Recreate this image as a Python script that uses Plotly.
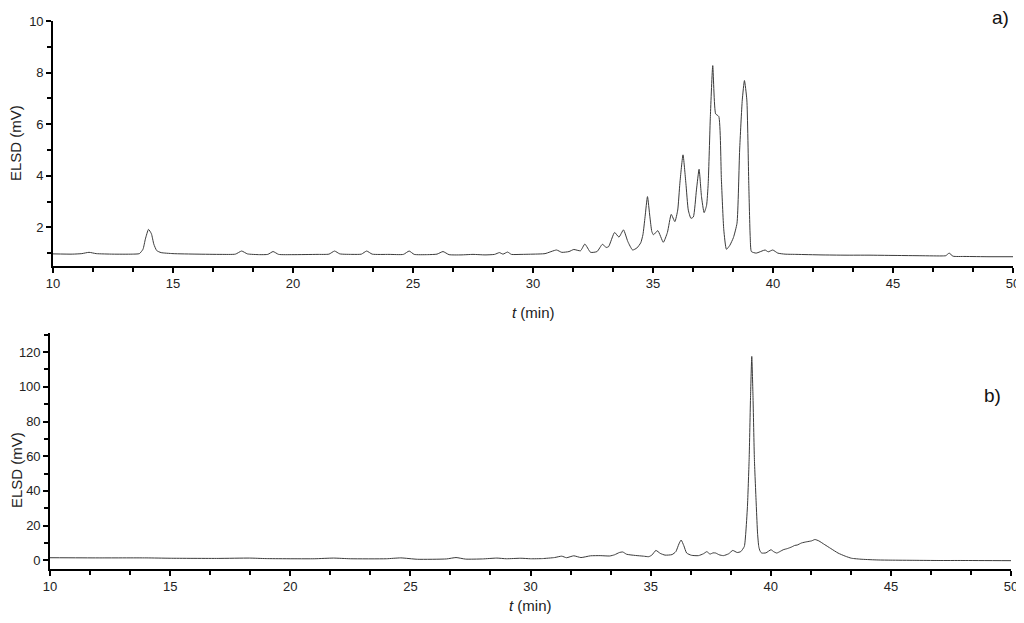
import plotly.graph_objects as go

# chromatogram a) : retention time (min) and ELSD signal (mV)
time_a = [10.0, 10.8, 11.2, 11.5, 11.8, 12.5, 13.3, 13.6, 13.75, 13.85, 13.98, 14.1, 14.2, 14.32, 14.5,
          15.0, 16.0, 17.0, 17.6, 17.86, 18.1, 18.6, 18.95, 19.17, 19.4, 20.0, 21.0, 21.5, 21.73, 21.95,
          22.5, 22.85, 23.07, 23.3, 24.0, 24.6, 24.84, 25.05, 25.6, 26.0, 26.25, 26.5, 27.0, 27.5, 28.0,
          28.4, 28.6, 28.75, 28.94, 29.1, 29.5, 30.0, 30.5, 30.98, 31.2, 31.5, 31.7, 31.98, 32.16, 32.4,
          32.67, 32.89, 33.05, 33.15, 33.4, 33.58, 33.77, 33.95, 34.15, 34.33, 34.49, 34.58, 34.67, 34.77,
          34.87, 34.95, 35.02, 35.2, 35.43, 35.6, 35.76, 35.91, 36.03, 36.12, 36.25, 36.37, 36.47, 36.58,
          36.68, 36.81, 36.92, 37.02, 37.13, 37.23, 37.3, 37.39, 37.49, 37.61, 37.74, 37.85, 37.95, 38.06,
          38.2, 38.35, 38.5, 38.61, 38.72, 38.81, 38.91, 38.99, 39.05, 39.1, 39.3, 39.67, 39.8, 39.99,
          40.2, 40.5, 41.0, 42.0, 43.0, 44.0, 45.0, 46.0, 47.0, 47.2, 47.34, 47.5, 48.0, 49.0, 50.0]
signal_a = [0.97, 0.96, 0.98, 1.03, 0.98, 0.96, 0.96, 0.98, 1.15, 1.55, 1.92, 1.75, 1.35, 1.1, 1.02,
            0.98, 0.96, 0.95, 0.96, 1.08, 0.97, 0.94, 0.95, 1.06, 0.95, 0.94, 0.95, 0.96, 1.08, 0.97,
            0.95, 0.96, 1.08, 0.96, 0.95, 0.95, 1.08, 0.95, 0.94, 0.96, 1.06, 0.94, 0.93, 0.95, 0.93,
            0.95, 1.02, 0.96, 1.04, 0.95, 0.95, 0.96, 0.98, 1.12, 1.03, 1.06, 1.14, 1.09, 1.35, 1.03,
            1.06, 1.34, 1.22, 1.25, 1.8, 1.62, 1.9, 1.45, 1.12, 1.2, 1.4, 1.71, 2.41, 3.19,
            2.41, 1.84, 1.71, 1.87, 1.42, 1.8, 2.5, 2.22, 2.67, 3.71, 4.81, 3.71, 2.67, 2.35,
            2.4, 3.45, 4.25, 3.2, 2.57, 2.84, 3.7, 6.3, 8.27, 6.4, 6.3, 3.84, 1.9, 1.15,
            1.3, 1.6, 2.16, 5.0, 6.94, 7.69, 6.94, 3.71, 1.64, 1.06, 1.0, 1.12, 1.05, 1.12,
            1.0, 0.96, 0.95, 0.93, 0.92, 0.92, 0.91, 0.9, 0.89, 0.9, 1.0, 0.88, 0.87, 0.86, 0.86]

# chromatogram b)
time_b = [10.0, 12.0, 14.0, 15.0, 17.0, 18.3, 19.0, 21.0, 21.8, 22.5, 24.0, 24.6, 25.3, 26.5, 26.9,
          27.3, 28.0, 28.6, 29.0, 29.6, 30.0, 30.5, 31.0, 31.3, 31.5, 31.8, 32.1, 32.5, 32.9, 33.3,
          33.5, 33.7, 33.84, 34.0, 34.37, 34.7, 34.92, 35.05, 35.22, 35.4, 35.6, 35.89, 36.05, 36.18,
          36.27, 36.38, 36.5, 36.7, 36.99, 37.2, 37.34, 37.47, 37.6, 37.71, 37.85, 38.03, 38.25, 38.42,
          38.6, 38.75, 38.9, 38.96, 39.03, 39.1, 39.16, 39.21, 39.26, 39.32, 39.4, 39.45, 39.5, 39.55,
          39.62, 39.8, 40.01, 40.12, 40.25, 40.4, 40.52, 40.7, 40.87, 41.0, 41.1, 41.28, 41.5, 41.7,
          41.84, 42.0, 42.25, 42.5, 42.8, 43.1, 43.36, 43.8, 44.47, 45.0, 46.0, 47.0, 48.0, 50.0]
signal_b = [1.5, 1.4, 1.4, 1.2, 1.1, 1.3, 1.0, 0.9, 1.3, 0.9, 0.9, 1.4, 0.6, 0.8, 1.6,
            0.7, 0.8, 1.3, 0.9, 1.2, 0.9, 1.0, 1.6, 2.4, 1.5, 2.6, 1.6, 2.6, 2.7, 2.5,
            3.2, 4.5, 4.8, 3.5, 2.8, 2.4, 2.1, 3.0, 5.7, 4.0, 3.0, 3.3, 5.0, 9.5,
            11.7, 8.5, 4.2, 2.9, 2.7, 3.8, 5.0, 3.6, 4.3, 4.2, 3.2, 2.7, 3.8, 5.7,
            4.5, 5.0, 8.0, 15.7, 31.0, 58.0, 95.0, 117.5, 95.0, 58.0, 31.0, 15.7, 8.0, 5.5,
            4.2, 4.3, 6.1, 5.0, 4.2, 5.2, 6.1, 6.8, 7.7, 8.6, 8.8, 10.0, 10.7, 11.2,
            12.0, 11.2, 9.0, 6.8, 4.2, 2.4, 1.2, 0.6, 0.2, 0.1, 0.0, -0.1, -0.1, -0.2]

# the page body adds an 8 px margin, so the figure is drawn 8 px smaller
OFF = 8
W, H = 1024 - OFF, 623 - OFF


def px(x):
    return (x - OFF) / W


def py(y):
    return 1 - (y - OFF) / H


font = 'Liberation Sans, Arial, sans-serif'
line_style = dict(color='#3a3a3a', width=1, shape='spline', smoothing=0.5)

fig = go.Figure()
fig.add_trace(go.Scatter(x=time_a, y=signal_a, mode='lines', line=line_style, xaxis='x', yaxis='y'))
fig.add_trace(go.Scatter(x=time_b, y=signal_b, mode='lines', line=line_style, xaxis='x2', yaxis='y2'))

minor_ticks = dict(ticks='outside', ticklen=4, tickwidth=1.5, tickcolor='black')
axis_common = dict(showline=True, linecolor='black', linewidth=1.6, ticks='outside', ticklen=5,
                   tickwidth=1.5, tickcolor='black', showgrid=False, zeroline=False, automargin=False,
                   ticklabeloverflow='allow', tickfont=dict(family=font, size=13, color='#222'))
x_common = dict(axis_common, range=[10, 50], tick0=10, dtick=5,
                minor=dict(minor_ticks, tick0=10, dtick=5 / 3))

fig.update_layout(
    width=W, height=H, showlegend=False,
    paper_bgcolor='white', plot_bgcolor='white',
    margin=dict(l=0, r=0, t=0, b=0),
    xaxis=dict(x_common, domain=[px(53), px(1013)], anchor='y'),
    yaxis=dict(axis_common, domain=[py(266), py(21)], anchor='x', range=[0.5, 10],
               tick0=0, dtick=2, minor=dict(minor_ticks, tick0=1, dtick=2)),
    xaxis2=dict(x_common, domain=[px(50), px(1011)], anchor='y2'),
    yaxis2=dict(axis_common, domain=[py(569), py(333)], anchor='x2', range=[-5, 131],
                tick0=0, dtick=20, minor=dict(minor_ticks, tick0=0, dtick=10)),
)

title_font = dict(family=font, size=15, color='#222')
annotations = [
    dict(text='<i>t</i> (min)', x=px(533), y=py(312)),
    dict(text='<i>t</i> (min)', x=px(530), y=py(605)),
    dict(text='ELSD (mV)', x=px(16), y=py(143), textangle=-90),
    dict(text='ELSD (mV)', x=px(16), y=py(470), textangle=-90),
]
for a in annotations:
    fig.add_annotation(xref='paper', yref='paper', showarrow=False, font=title_font,
                       xanchor='center', yanchor='middle', **a)

panel_font = dict(family=font, size=19, color='#111')
fig.add_annotation(text='a)', x=px(1000), y=py(18), xref='paper', yref='paper', showarrow=False,
                   font=panel_font, xanchor='center', yanchor='middle')
fig.add_annotation(text='b)', x=px(992), y=py(395), xref='paper', yref='paper', showarrow=False,
                   font=panel_font, xanchor='center', yanchor='middle')

fig.write_html("out.html")
